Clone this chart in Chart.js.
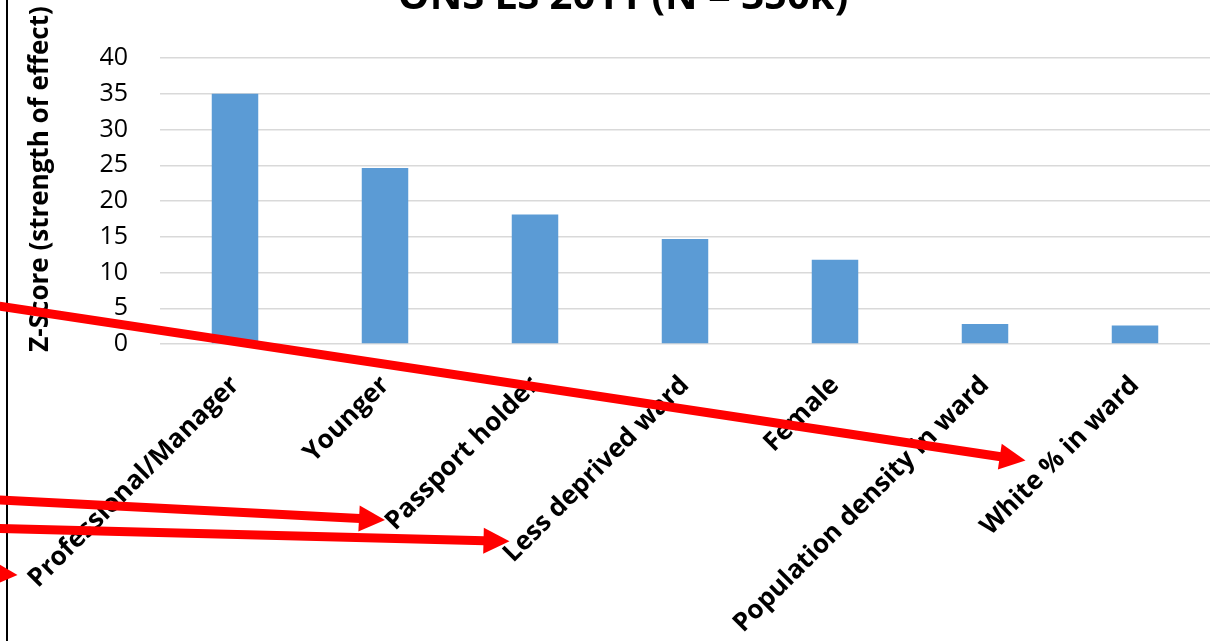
<!DOCTYPE html>
<html>
<head>
<meta charset="utf-8">
<script src="https://cdn.jsdelivr.net/npm/chart.js@4/dist/chart.umd.min.js"></script>
<style>
  html, body { margin: 0; padding: 0; background: #fff; overflow: hidden; }
  canvas { display: block; }
</style>
</head>
<body>
<canvas id="zChart" width="1216" height="641"></canvas>
<script>
// chart values
const categories = ['Professional/Manager', 'Younger', 'Passport holder', 'Less deprived ward',
  'Female', 'Population density in ward', 'White % in ward'];
const zScores = [35.0, 24.6, 18.1, 14.7, 11.8, 2.8, 2.6];
const yTicksMin = 0;
const yTicksMax = 40;
const yTickStep = 5;

// red arrows, in axis units (category index, z-score)
const arrowFromIdx = [-1.57, -1.57, -1.57, -2.9];
const arrowFromVal = [5.3, -21.8, -25.8, -30.5];
const arrowToIdx = [5.27, 1.0, 1.83, -1.45];
const arrowToVal = [-16.3, -24.6, -27.6, -32.3];

const chartTitle = 'ONS LS 2011 (N = 350k)';
const yTitle = 'Z-Score (strength of effect)';
const FONT = '"Open Sans", sans-serif';

// draws title, y title, the left frame line and the red arrows
const overlayPlugin = {
  id: 'overlay',
  afterDraw(chart) {
    const ctx = chart.ctx;
    const xs = chart.scales.x;
    const ys = chart.scales.y;
    ctx.save();

    ctx.fillStyle = '#000';
    ctx.font = 'bold 40px ' + FONT;
    ctx.textAlign = 'center';
    ctx.textBaseline = 'alphabetic';
    ctx.fillText(chartTitle, 623, 9);

    ctx.save();
    ctx.translate(41, 179);
    ctx.rotate(-Math.PI / 2);
    ctx.font = 'bold 26px ' + FONT;
    ctx.textBaseline = 'middle';
    ctx.fillText(yTitle, 0, 0);
    ctx.restore();

    ctx.strokeStyle = '#000';
    ctx.lineWidth = 2;
    ctx.beginPath();
    ctx.moveTo(7, 0);
    ctx.lineTo(7, chart.height);
    ctx.stroke();

    ctx.strokeStyle = '#ff0000';
    ctx.fillStyle = '#ff0000';
    ctx.lineWidth = 9;
    const headLen = 26, headHalf = 13;
    for (let i = 0; i < arrowFromIdx.length; i++) {
      const x1 = xs.getPixelForValue(arrowFromIdx[i]);
      const y1 = ys.getPixelForValue(arrowFromVal[i]);
      const x2 = xs.getPixelForValue(arrowToIdx[i]);
      const y2 = ys.getPixelForValue(arrowToVal[i]);
      const a = Math.atan2(y2 - y1, x2 - x1);
      const bx = x2 - headLen * Math.cos(a);
      const by = y2 - headLen * Math.sin(a);
      ctx.beginPath();
      ctx.moveTo(x1, y1);
      ctx.lineTo(bx + Math.cos(a), by + Math.sin(a));
      ctx.stroke();
      ctx.beginPath();
      ctx.moveTo(x2, y2);
      ctx.lineTo(bx + headHalf * Math.sin(a), by - headHalf * Math.cos(a));
      ctx.lineTo(bx - headHalf * Math.sin(a), by + headHalf * Math.cos(a));
      ctx.closePath();
      ctx.fill();
    }
    ctx.restore();
  }
};

new Chart(document.getElementById('zChart').getContext('2d'), {
  type: 'bar',
  data: {
    labels: categories,
    datasets: [{
      data: zScores,
      backgroundColor: '#5B9BD5',
      borderWidth: 0,
      categoryPercentage: 1.0,
      barPercentage: 0.31
    }]
  },
  options: {
    responsive: false,
    animation: false,
    layout: { padding: { top: 58, right: 6, left: 0, bottom: 0 } },
    plugins: {
      legend: { display: false },
      tooltip: { enabled: false },
      title: { display: false }
    },
    scales: {
      x: {
        grid: { display: false, drawTicks: false },
        border: { display: false },
        ticks: {
          minRotation: 45,
          maxRotation: 45,
          autoSkip: false,
          padding: 26,
          color: '#000',
          font: { family: FONT, size: 26, weight: 'bold' }
        },
        afterFit(scale) {
          scale.height = 297;
          scale.paddingLeft = 0;
          scale.paddingRight = 0;
        }
      },
      y: {
        min: yTicksMin,
        max: yTicksMax,
        grid: { color: '#d9d9d9', lineWidth: 1.5, drawTicks: false },
        border: { display: false },
        ticks: {
          stepSize: yTickStep,
          padding: 32,
          color: '#000',
          font: { family: FONT, size: 25 }
        },
        afterFit(scale) { scale.width = 160; }
      }
    }
  },
  plugins: [overlayPlugin]
});
</script>
</body>
</html>
